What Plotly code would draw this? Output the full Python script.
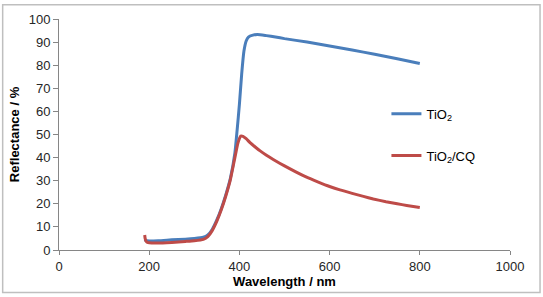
import plotly.graph_objects as go

# TiO2 reflectance spectrum
wl_tio2 = [190, 192, 195, 200, 220, 250, 280, 300, 320, 330, 340, 350, 360, 370, 380, 390, 395, 400,
           405, 410, 415, 420, 430, 440, 460, 480, 500, 550, 600, 650, 700, 750, 800]
r_tio2 = [4.5, 4.2, 4.0, 3.9, 4.0, 4.4, 4.7, 5.0, 5.5, 6.5, 9.0, 13.0, 18.0, 24.0, 31.0, 42.0, 52.0, 63.0,
          76.0, 86.0, 90.5, 92.2, 93.0, 93.3, 92.8, 92.2, 91.5, 90.0, 88.3, 86.6, 84.7, 82.8, 80.7]

# TiO2/CQ reflectance spectrum
wl_cq = [190, 191, 193, 196, 200, 220, 250, 280, 300, 320, 330, 340, 350, 360, 370, 380, 390, 397, 403,
         408, 415, 423, 435, 446, 460, 475, 500, 525, 549, 575, 600, 623, 650, 675, 697, 725, 750, 771, 800]
r_cq = [6.5, 5.0, 3.8, 3.3, 3.1, 3.0, 3.3, 3.7, 4.0, 4.6, 5.8, 8.5, 12.5, 17.5, 23.5, 30.5, 40.0, 46.5, 49.3,
        49.2, 48.2, 46.6, 44.6, 42.9, 41.0, 39.2, 36.4, 33.8, 31.5, 29.4, 27.5, 26.0, 24.5, 23.2, 22.1, 20.9,
        20.0, 19.3, 18.4]

x_ticks = [0, 200, 400, 600, 800, 1000]
y_ticks = [0, 10, 20, 30, 40, 50, 60, 70, 80, 90, 100]

font_family = "Liberation Sans, Arial, sans-serif"

fig = go.Figure()
fig.add_trace(go.Scatter(x=wl_tio2, y=r_tio2, mode="lines", name="TiO<sub>2</sub>",
                         line=dict(color="#4a7ebb", width=3, shape="spline", smoothing=0.5), legendgroup="a"))
fig.add_trace(go.Scatter(x=wl_cq, y=r_cq, mode="lines", name="TiO<sub>2</sub>/CQ",
                         line=dict(color="#be4b48", width=3, shape="spline", smoothing=0.5), legendgroup="b"))

axis_common = dict(showgrid=False, zeroline=False, showline=True, linecolor="#868686", linewidth=1,
                   ticks="outside", tickcolor="#868686",
                   tickfont=dict(family=font_family, size=13, color="#262626"))

fig.update_xaxes(range=[0, 1000], tickvals=x_ticks, ticklen=4,
                 title=dict(text="<b>Wavelength / nm</b>", font=dict(family=font_family, size=13, color="#000"),
                            standoff=2),
                 **axis_common)
fig.update_yaxes(range=[0, 100], tickvals=y_ticks, ticklen=5,
                 title=dict(text="<b>Reflectance / %</b>", font=dict(family=font_family, size=13, color="#000"),
                            standoff=6),
                 **axis_common)

fig.update_layout(
    width=543, height=297,
    margin=dict(l=59, r=33, t=18, b=45),
    paper_bgcolor="white", plot_bgcolor="white",
    font=dict(family=font_family, size=13, color="#000"),
    legend=dict(x=0.726, y=0.655, xanchor="left", yanchor="top", tracegroupgap=22,
                font=dict(family=font_family, size=13, color="#000"), bgcolor="rgba(0,0,0,0)"),
    shapes=[dict(type="rect", xref="paper", yref="paper", x0=-0.1249, x1=1.0666, y0=-0.184, y1=1.0612,
                 line=dict(color="#bfbfbf", width=1.5), fillcolor="rgba(0,0,0,0)", layer="below")],
)

fig.write_html("out.html")
